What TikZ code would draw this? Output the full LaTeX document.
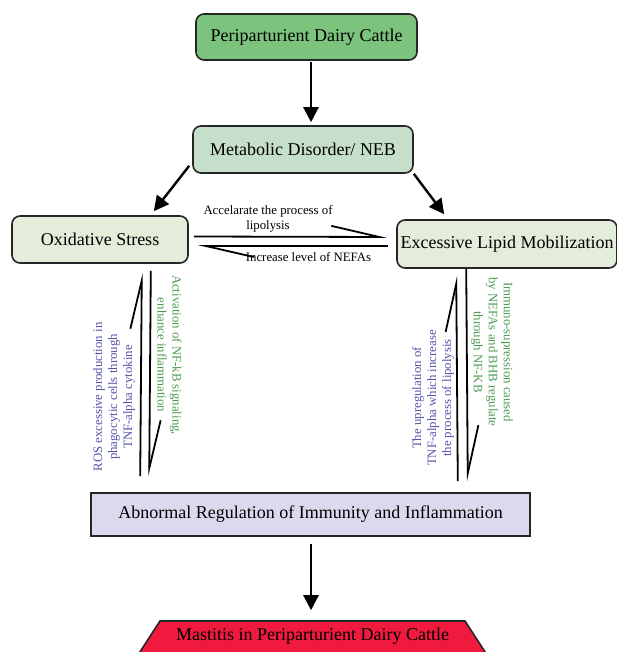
\documentclass[tikz,border=0pt]{standalone}
\usepackage{fontspec}
\setmainfont{Liberation Serif}
\usetikzlibrary{arrows.meta,calc}
\definecolor{topgreen}{HTML}{7CC47E}
\definecolor{midgreen}{HTML}{C6DFCB}
\definecolor{palegreen}{HTML}{E3EDDA}
\definecolor{lavender}{HTML}{DCD8EE}
\definecolor{mastred}{HTML}{EF1A3E}
\definecolor{textblue}{HTML}{5555AA}
\definecolor{textgreen}{HTML}{4A9A4E}
\begin{document}
\begin{tikzpicture}[x=1pt,y=-1pt,
    box/.style={draw=black!85,line width=1.6pt,rounded corners=8pt,inner sep=0pt,
      font=\fontsize{18}{21}\selectfont},
    arrow/.style={line width=2.4pt,-{Triangle[length=15pt,width=15pt]}},
    harp/.style={line width=1.8pt,-{Straight Barb[harpoon,length=48pt,width=22pt]}},
    note/.style={font=\fontsize{12.8}{15}\selectfont,align=center,inner sep=0pt}]
      \clip (0,0) rectangle (617,652);
      % red end box, cut by the page edge
      \filldraw[fill=mastred,draw=black!85,line width=1.6pt]
        (160,621) -- (465,621) -- (489,658) -- (136,658) -- cycle;
      \begin{scope}[every node/.style={box}]
        \node (PDC)[fill=topgreen,minimum width=221pt,minimum height=46pt] at (306.5,37) {Periparturient Dairy Cattle};
        \node (MD)[fill=midgreen,minimum width=220pt,minimum height=47pt] at (303,149.5) {Metabolic Disorder/ NEB};
        \node (OS)[fill=palegreen,minimum width=176pt,minimum height=47pt] at (100,239.5) {Oxidative Stress};
        \node (ELM)[fill=palegreen,minimum width=220pt,minimum height=48pt] at (507,244) {Excessive Lipid Mobilization};
        \node (ARII)[fill=lavender,sharp corners,minimum width=439pt,minimum height=43pt] at (310.5,514.5) {Abnormal Regulation of Immunity and Inflammation};
        \node (MPDC)[draw=none,minimum width=305pt,minimum height=30pt] at (312.5,636) {Mastitis in Periparturient Dairy Cattle};
      \end{scope}
      \begin{scope}[every node/.style={note}]
        \node (acc) at (268,218.5) {Accelarate the process of\\lipolysis};
        \node (inc) at (308.5,257) {Increase level of NEFAs};
        \node (ros)[textblue,rotate=90] at (114,397) {ROS excessive production in\\phagocytic cells through\\TNF-alpha cytokine};
        \node (nfkb)[textgreen,rotate=-90] at (169.5,355) {Activation of NF-kB signaling,\\enhance inflammation};
        \node (tnf)[textblue,rotate=90] at (433,398) {The upregulation of\\TNF-alpha which increase\\the process of lipolysis};
        \node (imm)[textgreen,rotate=-90] at (492,352) {Immuno-supression caused\\by NEFAs and BHB regulate\\through NF-KB};
      \end{scope}
      % main flow
      \draw[arrow] ($(PDC.south)+(4.5,1)$) -- ($(MD.north)+(8,-3)$);
      \draw[arrow] ($(MD.south west)+(-3,-8)$) -- ($(OS.north east)+(-35,-4)$);
      \draw[arrow] (MD.south east) -- ($(ELM.north west)+(48,-5)$);
      \draw[arrow] ($(ARII.south)+(0.5,7)$) -- ($(MPDC.north)+(-1.5,-10)$);
      % two-way links
      \draw[harp] ($(OS.east)+(5,-3)$) -- ($(ELM.west)+(-9,-7)$);
      \draw[harp] ($(ELM.west)+(-8,2)$) -- ($(OS.east)+(9,6.5)$);
      \draw[harp] ($(ARII.north west)+(50,-16)$) -- ($(OS.south east)+(-47,9)$);
      \draw[harp] ($(OS.south east)+(-38,7)$) -- ($(ARII.north west)+(59,-16)$);
      \draw[harp] ($(ARII.north east)+(-73,-11)$) -- ($(ELM.south west)+(60,7)$);
      \draw[harp] ($(ELM.south west)+(70,0)$) -- ($(ARII.north east)+(-63,-11)$);
    \end{tikzpicture}
\end{document}
